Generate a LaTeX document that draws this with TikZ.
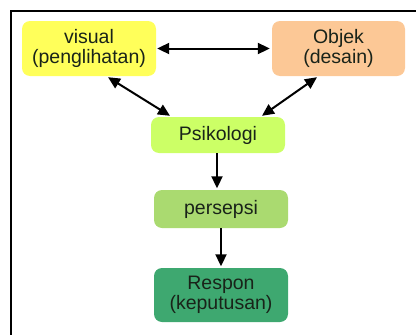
\documentclass[tikz,border=0pt]{standalone}
\usepackage{fontspec}
\setmainfont{Liberation Sans}
\usetikzlibrary{arrows.meta}
\definecolor{visyellow}{RGB}{255,255,90}
\definecolor{objpeach}{RGB}{252,200,150}
\definecolor{psilime}{RGB}{204,255,102}
\definecolor{perlight}{RGB}{170,218,112}
\definecolor{resgreen}{RGB}{62,168,112}
\definecolor{txtdark}{RGB}{25,35,25}
\tikzset{box/.style={rounded corners=8pt,minimum width=134pt,align=center,text=txtdark,
    font=\fontsize{19.5}{20}\selectfont},
  link/.style={line width=2pt,-{Triangle[length=12pt,width=11pt]}},
  duallink/.style={line width=2pt,{Triangle[length=12pt,width=11pt]}-{Triangle[length=12pt,width=11pt]}}}

\begin{document}
\begin{tikzpicture}[x=1pt,y=-1pt]
        \useasboundingbox (0,0) rectangle (416,335);
        \draw [line width=2pt] (10.5,335) -- (10.5,11) -- (416,11);
        \node (visual) at (89,48.5) [box,fill=visyellow,minimum height=55pt] {visual\\(penglihatan)};
        \node (objek) at (338.5,48.5) [box,fill=objpeach,minimum width=133pt,minimum height=55pt] {Objek\\(desain)};
        \node (psikologi) at (218,135) [box,fill=psilime,minimum height=36pt] {Psikologi};
        \node (persepsi) at (221,209) [box,fill=perlight,minimum height=38pt] {persepsi};
        \node (respon) at (221,295) [box,fill=resgreen,minimum height=54pt] {Respon\\(keputusan)};
        \draw [duallink] ([xshift=1pt]visual.east) -- ([xshift=-2pt]objek.west);
        \draw [duallink] ([xshift=19pt,yshift=-1pt]visual.south) -- ([xshift=-48pt,yshift=1pt]psikologi.north);
        \draw [duallink] ([xshift=-21.5pt,yshift=-1pt]objek.south) -- ([xshift=44pt,yshift=1pt]psikologi.north);
        \draw [link] ([xshift=-1pt]psikologi.south) -- ([xshift=-4pt,yshift=1.5pt]persepsi.north);
        \draw [link] (persepsi.south) -- ([yshift=1.5pt]respon.north);
      \end{tikzpicture}
\end{document}
